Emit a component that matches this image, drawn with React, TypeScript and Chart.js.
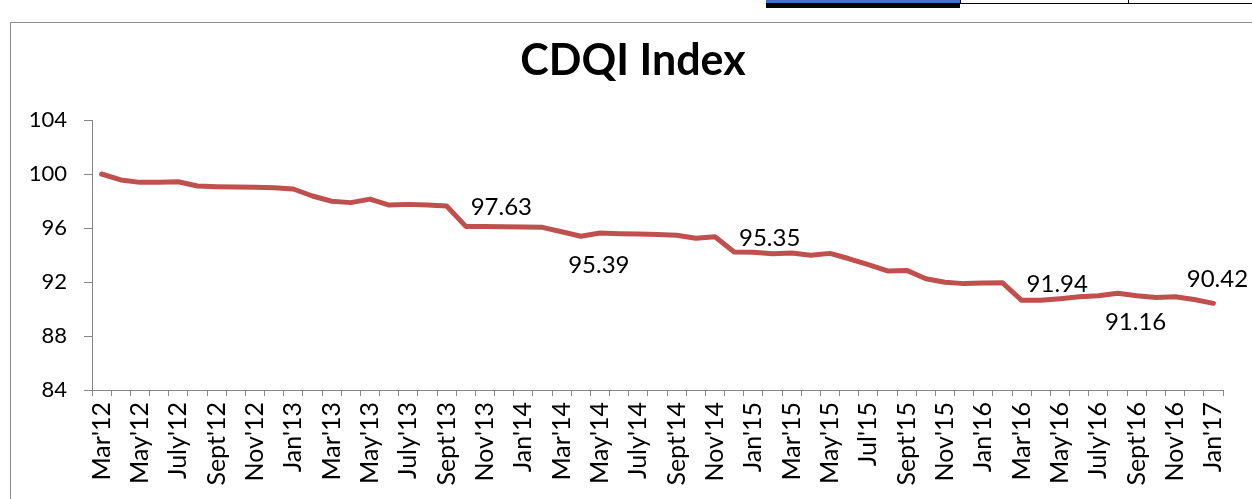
import React, { useEffect, useRef } from "react";
import { Chart, registerables } from "chart.js";

Chart.register(...registerables);

const categories: string[] = [
  "Mar'12", "Apr'12", "May'12", "Jun'12", "July'12", "Aug'12", "Sept'12", "Oct'12", "Nov'12", "Dec'12",
  "Jan'13", "Feb'13", "Mar'13", "Apr'13", "May'13", "Jun'13", "July'13", "Aug'13", "Sept'13", "Oct'13", "Nov'13", "Dec'13",
  "Jan'14", "Feb'14", "Mar'14", "Apr'14", "May'14", "Jun'14", "July'14", "Aug'14", "Sept'14", "Oct'14", "Nov'14", "Dec'14",
  "Jan'15", "Feb'15", "Mar'15", "Apr'15", "May'15", "Jun'15", "Jul'15", "Aug'15", "Sept'15", "Oct'15", "Nov'15", "Dec'15",
  "Jan'16", "Feb'16", "Mar'16", "Apr'16", "May'16", "Jun'16", "July'16", "Aug'16", "Sept'16", "Oct'16", "Nov'16", "Dec'16",
  "Jan'17",
];

const indexValues: number[] = [
  100.0, 99.56, 99.38, 99.38, 99.43, 99.11, 99.06, 99.04, 99.01, 98.98,
  98.89, 98.37, 97.98, 97.88, 98.14, 97.7, 97.75, 97.7, 97.63, 96.12, 96.12, 96.1,
  96.08, 96.05, 95.72, 95.39, 95.63, 95.58, 95.55, 95.52, 95.46, 95.24, 95.35, 94.22,
  94.2, 94.1, 94.15, 93.98, 94.12, 93.72, 93.28, 92.82, 92.86, 92.24, 91.98, 91.88,
  91.92, 91.94, 90.64, 90.64, 90.76, 90.9, 90.98, 91.16, 90.98, 90.86, 90.9, 90.7,
  90.42,
];

const yTicks: number[] = [84, 88, 92, 96, 100, 104];

const labelIndices: number[] = [18, 25, 32, 47, 53, 58];
const labelTexts: string[] = ["97.63", "95.39", "95.35", "91.94", "91.16", "90.42"];
const labelPositions: string[] = ["right", "below", "right", "right", "below", "above"];

const TITLE = "CDQI Index";
const FONT = "Lato, 'Open Sans', sans-serif";

const labelPlugin = {
  id: "pointLabels",
  afterDatasetsDraw(chart: any) {
    const meta = chart.getDatasetMeta(0);
    const ctx = chart.ctx;
    ctx.save();
    ctx.fillStyle = "#000";
    ctx.font = `24px ${FONT}`;
    ctx.textBaseline = "alphabetic";
    labelIndices.forEach((idx, k) => {
      const pt = meta.data[idx];
      if (!pt) return;
      const pos = labelPositions[k];
      if (pos === "right") {
        ctx.textAlign = "left";
        ctx.fillText(labelTexts[k], pt.x + 24, pt.y + 9.5);
      } else if (pos === "below") {
        ctx.textAlign = "center";
        ctx.fillText(labelTexts[k], pt.x + 18, pt.y + 36.5);
      } else {
        ctx.textAlign = "center";
        ctx.fillText(labelTexts[k], pt.x + 4, pt.y - 16);
      }
    });
    ctx.restore();
  },
};

const titlePlugin = {
  id: "manualTitle",
  afterDraw(chart: any) {
    const ctx = chart.ctx;
    ctx.save();
    ctx.fillStyle = "#000";
    ctx.font = `bold 43px ${FONT}`;
    ctx.textAlign = "center";
    ctx.textBaseline = "alphabetic";
    ctx.fillText(TITLE, 633, 75);
    ctx.restore();
  },
};

export default function App() {
  const ref = useRef<HTMLCanvasElement | null>(null);

  useEffect(() => {
    if (!ref.current) return;
    const chart = new Chart(ref.current, {
      type: "line",
      data: {
        labels: categories,
        datasets: [
          {
            data: indexValues,
            borderColor: "#C0504D",
            backgroundColor: "#C0504D",
            borderWidth: 5,
            pointRadius: 0,
            tension: 0,
            borderJoinStyle: "round",
            borderCapStyle: "round",
            fill: false,
          },
        ],
      },
      options: {
        animation: false,
        responsive: false,
        devicePixelRatio: 1,
        layout: { padding: { top: 120, right: 29, left: 0, bottom: 0 } },
        plugins: {
          legend: { display: false },
          title: { display: false },
          tooltip: { enabled: false },
        },
        scales: {
          x: {
            type: "category",
            offset: true,
            grid: {
              display: true,
              offset: true,
              drawOnChartArea: false,
              drawTicks: true,
              tickLength: 6,
              color: "#868686",
            },
            border: { display: true, color: "#868686", width: 1 },
            ticks: {
              autoSkip: false,
              maxRotation: 90,
              minRotation: 90,
              padding: 6,
              color: "#000",
              font: { family: FONT, size: 25 },
              callback: (_v: any, i: number) => (i % 2 === 0 ? categories[i] : ""),
            },
            afterFit: (s: any) => {
              s.height = 109;
            },
          },
          y: {
            min: 84,
            max: 104,
            afterBuildTicks: (s: any) => {
              s.ticks = yTicks.map((v) => ({ value: v }));
            },
            grid: {
              display: true,
              drawOnChartArea: false,
              drawTicks: true,
              tickLength: 8,
              color: "#868686",
            },
            border: { display: true, color: "#868686", width: 1 },
            ticks: {
              padding: 17,
              color: "#000",
              font: { family: FONT, size: 22 },
            },
            afterFit: (s: any) => {
              s.width = 92;
            },
          },
        },
      },
      plugins: [labelPlugin, titlePlugin],
    });
    return () => chart.destroy();
  }, []);

  return (
    <div
      style={{
        position: "fixed",
        left: 0,
        top: 0,
        width: 1252,
        height: 499,
        background: "#fff",
        overflow: "hidden",
      }}
    >
      <div
        style={{
          position: "absolute",
          left: 10,
          top: 22,
          width: 1400,
          height: 700,
          border: "1px solid #8c8c8c",
        }}
      />
      <div style={{ position: "absolute", left: 766, top: 0, width: 194, height: 3, background: "#4472C4" }} />
      <div style={{ position: "absolute", left: 766, top: 3, width: 194, height: 5, background: "#000" }} />
      <div style={{ position: "absolute", left: 960, top: 3, width: 292, height: 1, background: "#000" }} />
      <div style={{ position: "absolute", left: 960, top: 0, width: 1, height: 4, background: "#000" }} />
      <div style={{ position: "absolute", left: 1128, top: 0, width: 1, height: 4, background: "#000" }} />
      <canvas
        ref={ref}
        width={1252}
        height={499}
        style={{ position: "absolute", left: 0, top: 0, width: 1252, height: 499 }}
      />
    </div>
  );
}
